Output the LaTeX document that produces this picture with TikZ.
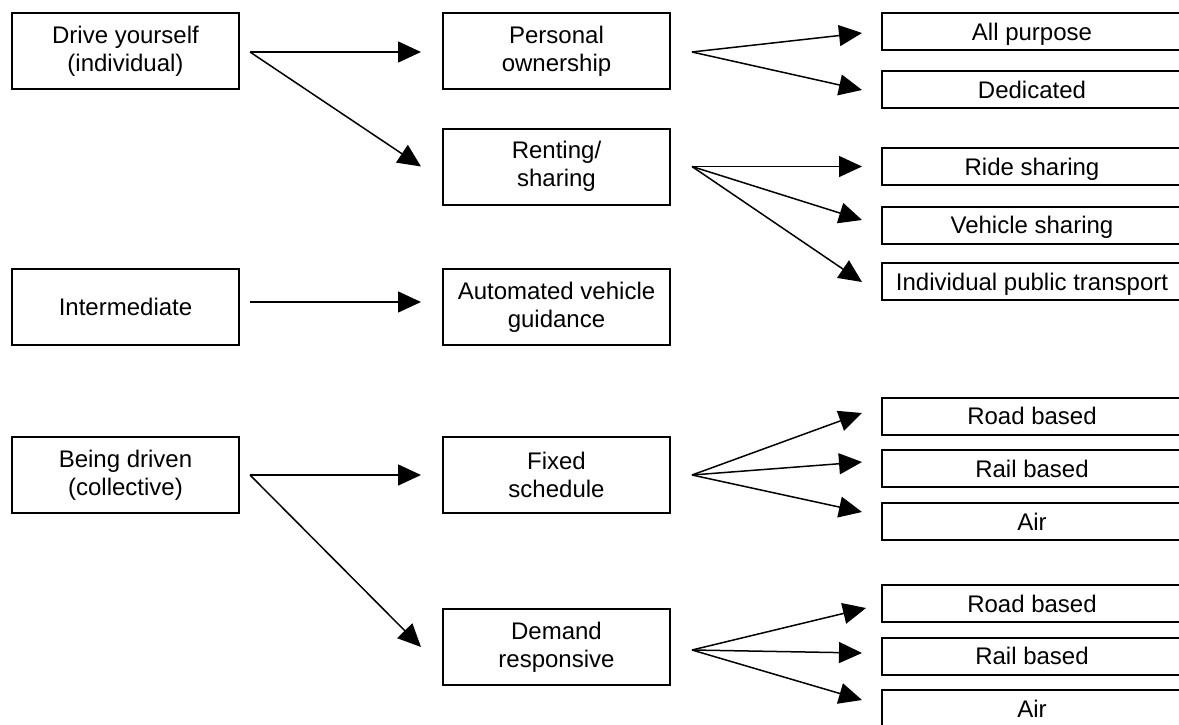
\documentclass[tikz,border=0pt]{standalone}
\usepackage{fontspec}
\setmainfont{Liberation Sans}
\usetikzlibrary{arrows.meta}
\begin{document}
\begin{tikzpicture}[x=1pt,y=-1pt,
  every node/.style={font=\fontsize{24}{27.7}\selectfont},
  bigbox/.style={draw,line width=2pt,rectangle,inner sep=0pt,align=center,
    minimum width=227pt,minimum height=76pt},
  leafbox/.style={draw,line width=2pt,rectangle,inner sep=0pt,align=center,
    minimum width=300pt,minimum height=37pt,text height=17.2pt,text depth=0pt},
  link/.style={line width=1.5pt,-{Triangle[length=23pt,width=21pt]}}]
\clip (0,0) rectangle (1179,725);
\fill[white] (0,0) rectangle (1179,725);

% left column
\node[bigbox] (drive)  at (125.5,51)  {Drive yourself\\(individual)};
\node[bigbox] (inter)  at (125.5,307) {Intermediate};
\node[bigbox] (driven) at (125.5,475) {Being driven\\(collective)};

% middle column
\node[bigbox] (pers)   at (556.5,51)    {Personal\\ownership};
\node[bigbox] (rent)   at (556.5,166.5) {Renting/\\sharing};
\node[bigbox] (auto)   at (556.5,307)   {Automated vehicle\\guidance};
\node[bigbox] (fixed)  at (556.5,475)   {Fixed\\schedule};
\node[bigbox] (demand) at (556.5,647)   {Demand\\responsive};

% right column
\node[leafbox] (allp)   at (1032,32)    {All purpose};
\node[leafbox] (ded)    at (1032,90)    {Dedicated};
\node[leafbox] (ride)   at (1032,166.5) {Ride sharing};
\node[leafbox] (vshare) at (1032,225)   {Vehicle sharing};
\node[leafbox] (ipt)    at (1032,281.5) {Individual public transport};
\node[leafbox] (road1)  at (1032,416)   {Road based};
\node[leafbox] (rail1)  at (1032,468.5) {Rail based};
\node[leafbox] (air1)   at (1032,521.5) {Air};
\node[leafbox] (road2)  at (1032,603.5) {Road based};
\node[leafbox] (rail2)  at (1032,656)   {Rail based};
\node[leafbox] (air2)   at (1032,708.5) {Air};

% fan origins
\coordinate (driveo)  at ([xshift=10pt,yshift=-1pt]drive.east);
\coordinate (intero)  at ([xshift=10pt,yshift=5pt]inter.east);
\coordinate (driveno) at ([xshift=10pt]driven.east);
\coordinate (perso)   at ([xshift=21pt,yshift=-1pt]pers.east);
\coordinate (rento)   at ([xshift=21pt]rent.east);
\coordinate (fixedo)  at ([xshift=21pt]fixed.east);
\coordinate (demando) at ([xshift=21pt,yshift=-3pt]demand.east);

% first level
\draw[link] (driveo)  -- ([xshift=-21pt,yshift=-1pt]pers.west);
\draw[link] (driveo)  -- ([xshift=-21pt]rent.west);
\draw[link] (intero)  -- ([xshift=-21pt,yshift=5pt]auto.west);
\draw[link] (driveno) -- ([xshift=-21pt]fixed.west);
\draw[link] (driveno) -- ([xshift=-21pt]demand.west);

% second level
\draw[link] (perso)   -- ([xshift=-19pt,yshift=-1pt]allp.west);
\draw[link] (perso)   -- ([xshift=-19pt]ded.west);
\draw[link] (rento)   -- ([xshift=-19pt]ride.west);
\draw[link] (rento)   -- ([xshift=-19pt,yshift=5pt]vshare.west);
\draw[link] (rento)   -- ([xshift=-19pt,yshift=-0.5pt]ipt.west);
\draw[link] (fixedo)  -- ([xshift=-19pt,yshift=3pt]road1.west);
\draw[link] (fixedo)  -- ([xshift=-19pt,yshift=6.5pt]rail1.west);
\draw[link] (fixedo)  -- ([xshift=-19pt,yshift=9.5pt]air1.west);
\draw[link] (demando) -- ([xshift=-15pt,yshift=-4.5pt]road2.west);
\draw[link] (demando) -- ([xshift=-19pt,yshift=3pt]rail2.west);
\draw[link] (demando) -- ([xshift=-19pt,yshift=8.5pt]air2.west);
\end{tikzpicture}
\end{document}
